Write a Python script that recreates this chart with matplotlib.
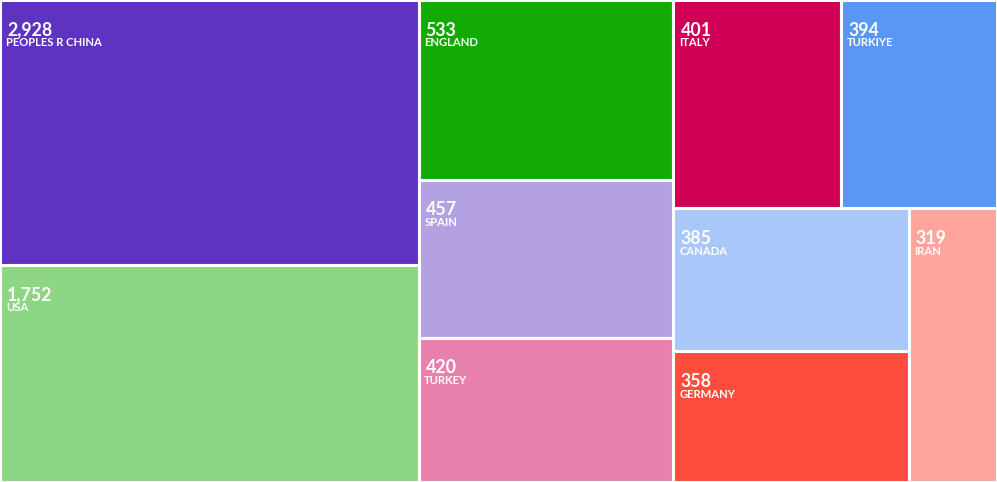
import matplotlib
matplotlib.use("Agg")
import matplotlib.pyplot as plt
from matplotlib.patches import Rectangle

plt.rcParams['font.family'] = ['Lato', 'DejaVu Sans']

# records per country (the numbers shown in the boxes)
countries = ["PEOPLES R CHINA", "USA", "ENGLAND", "SPAIN", "TURKEY",
             "ITALY", "TURKIYE", "CANADA", "GERMANY", "IRAN"]
records = [2928, 1752, 533, 457, 420, 401, 394, 385, 358, 319]
# box sizes as drawn in the chart (read off the box areas, not the counts)
box_size = [1287, 1058, 532, 468, 428, 406, 378, 391, 357, 281]
colors = ["#5E33BF", "#8DD683", "#14AA04", "#B4A1E1", "#E780AC",
          "#D00056", "#5897F5", "#A9C7F9", "#FF4D3D", "#FFA59D"]

W, H = 997, 482
PHI = (1 + 5 ** 0.5) / 2


def squarify(values, x0, y0, x1, y1, ratio=PHI):
    """
        Squarified treemap (same steps as d3.treemapSquarify),
        returns (x, y, w, h) for every value, in input order
    """
    rects = []
    n = len(values)
    value = float(sum(values))
    i0 = i1 = 0
    while i0 < n:
        dx, dy = x1 - x0, y1 - y0
        sum_v = values[i1]
        i1 += 1
        min_v = max_v = sum_v
        alpha = max(dy / dx, dx / dy) / (value * ratio)
        beta = sum_v * sum_v * alpha
        min_ratio = max(max_v / beta, beta / min_v)
        # keep adding nodes while the aspect ratio holds or improves
        while i1 < n:
            v = values[i1]
            s = sum_v + v
            mn, mx = min(min_v, v), max(max_v, v)
            beta = s * s * alpha
            new_ratio = max(mx / beta, beta / mn)
            if new_ratio > min_ratio:
                break
            sum_v, min_v, max_v, min_ratio = s, mn, mx, new_ratio
            i1 += 1
        row = values[i0:i1]
        if dx < dy:
            # row across the top
            h = dy * sum_v / value
            xs = x0
            for v in row:
                w = dx * v / sum_v
                rects.append((xs, y0, w, h))
                xs += w
            y0 += h
        else:
            # column on the left
            w = dx * sum_v / value
            ys = y0
            for v in row:
                h = dy * v / sum_v
                rects.append((x0, ys, w, h))
                ys += h
            x0 += w
        value -= sum_v
        i0 = i1
    return rects


fig = plt.figure(figsize=(W / 100, H / 100), dpi=100)
ax = fig.add_axes([0, 0, 1, 1])
ax.set_xlim(0, W)
ax.set_ylim(H, 0)
ax.axis("off")

for (x, y, w, h), name, n, c in zip(squarify(box_size, 0, 0, W, H), countries, records, colors):
    ax.add_patch(Rectangle((x, y), w, h, facecolor=c, edgecolor="white", linewidth=2.2))
    ax.text(x + 7, y + 35.5, f"{n:,}", color="white", fontsize=12.8,
            fontweight="bold", va="baseline", ha="left")
    ax.text(x + 5.8, y + 46.5, name, color="white", fontsize=8.1,
            fontweight="bold", va="baseline", ha="left")

fig.savefig("out.png", dpi=100)
